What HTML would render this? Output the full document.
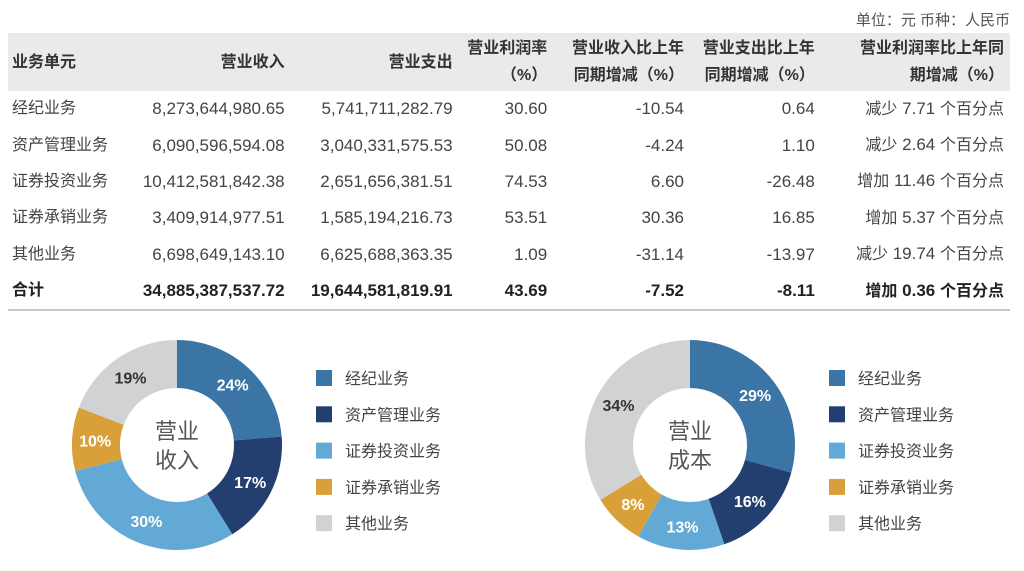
<!DOCTYPE html>
<html><head><meta charset="utf-8">
<style>
body{margin:0;width:1024px;height:571px;background:#fff;overflow:hidden;font-family:"Liberation Sans","Noto Sans CJK SC",sans-serif;color:#333;}
.unit{position:absolute;right:14px;top:9px;font-size:15px;color:#555;}
table{position:absolute;left:8px;top:33px;width:1002px;border-collapse:collapse;font-size:16px;}
th{background:#e9eaec;font-weight:bold;height:58px;line-height:27px;text-align:right;padding:0;color:#333;}
td{height:36.4px;line-height:20px;text-align:right;padding:0;color:#444;font-size:17px;vertical-align:middle;}
td span.c{font-size:16px;}
th.l,td.l{text-align:left;padding-left:4px;font-size:16px;}
tr.tot td{font-weight:bold;color:#222;}
tbody tr:last-child td{border-bottom:2px solid #c8c9cb;}
svg{position:absolute;left:0;top:0;}
</style></head><body>
<div class="unit">单位：元 币种：人民币</div>
<table>
<colgroup><col style="width:122px"><col style="width:153px"><col style="width:167px"><col style="width:94px"><col style="width:136px"><col style="width:130px"><col style="width:194px"></colgroup>
<thead><tr>
<th class="l">业务单元</th><th>营业收入</th><th>营业支出</th><th>营业利润率<br>（%）</th><th>营业收入比上年<br>同期增减（%）</th><th>营业支出比上年<br>同期增减（%）</th><th style="padding-right:6px">营业利润率比上年同<br>期增减（%）</th></tr></thead>
<tbody>
<tr><td class="l">经纪业务</td><td>8,273,644,980.65</td><td>5,741,711,282.79</td><td>30.60</td><td>-10.54</td><td>0.64</td><td style="padding-right:6px"><span class="c">减少</span> 7.71 <span class="c">个百分点</span></td></tr>
<tr><td class="l">资产管理业务</td><td>6,090,596,594.08</td><td>3,040,331,575.53</td><td>50.08</td><td>-4.24</td><td>1.10</td><td style="padding-right:6px"><span class="c">减少</span> 2.64 <span class="c">个百分点</span></td></tr>
<tr><td class="l">证券投资业务</td><td>10,412,581,842.38</td><td>2,651,656,381.51</td><td>74.53</td><td>6.60</td><td>-26.48</td><td style="padding-right:6px"><span class="c">增加</span> 11.46 <span class="c">个百分点</span></td></tr>
<tr><td class="l">证券承销业务</td><td>3,409,914,977.51</td><td>1,585,194,216.73</td><td>53.51</td><td>30.36</td><td>16.85</td><td style="padding-right:6px"><span class="c">增加</span> 5.37 <span class="c">个百分点</span></td></tr>
<tr><td class="l">其他业务</td><td>6,698,649,143.10</td><td>6,625,688,363.35</td><td>1.09</td><td>-31.14</td><td>-13.97</td><td style="padding-right:6px"><span class="c">减少</span> 19.74 <span class="c">个百分点</span></td></tr>
<tr class="tot"><td class="l">合计</td><td>34,885,387,537.72</td><td>19,644,581,819.91</td><td>43.69</td><td>-7.52</td><td>-8.11</td><td style="padding-right:6px"><span class="c">增加</span> 0.36 <span class="c">个百分点</span></td></tr>
</tbody></table>
<svg id="chart" width="1024" height="571"></svg>
<script>
const categories=["经纪业务","资产管理业务","证券投资业务","证券承销业务","其他业务"];
const revenueValues=[8273644980.65,6090596594.08,10412581842.38,3409914977.51,6698649143.10];
const costValues=[5741711282.79,3040331575.53,2651656381.51,1585194216.73,6625688363.35];
const revenueLabels=["24%","17%","30%","10%","19%"];
const costLabels=["29%","16%","13%","8%","34%"];
const colors=["#3b75a6","#233f6f","#63a9d5","#d9a03a","#d1d2d4"];
const labelColors=["#fff","#fff","#fff","#fff","#333"];
const NS="http://www.w3.org/2000/svg";
const svg=document.getElementById('chart');
function mk(t,a){const e=document.createElementNS(NS,t);for(const k in a)e.setAttribute(k,a[k]);return e;}
function donut(cx,cy,values,labels,title,legX,key){
  const R=105,r=57,tot=values.reduce((a,b)=>a+b,0);
  let a0=0;
  values.forEach((v,i)=>{
    const a1=a0+v/tot*2*Math.PI;
    const p=(a,rad)=>[cx+rad*Math.sin(a),cy-rad*Math.cos(a)];
    const [x1,y1]=p(a0,R),[x2,y2]=p(a1,R),[x3,y3]=p(a1,r),[x4,y4]=p(a0,r);
    const lg=(a1-a0)>Math.PI?1:0;
    const path=mk('path',{d:`M${x1},${y1}A${R},${R} 0 ${lg} 1 ${x2},${y2}L${x3},${y3}A${r},${r} 0 ${lg} 0 ${x4},${y4}Z`,fill:colors[i]});
    
    
    svg.appendChild(path);
    const am=(a0+a1)/2,[lx,ly]=p(am,82);
    const t=mk('text',{x:lx,y:ly+6,'text-anchor':'middle','font-size':'16','font-weight':'bold',fill:labelColors[i],'font-family':'Liberation Sans,sans-serif'});
    t.textContent=labels[i];
    
    
    svg.appendChild(t);
    a0=a1;
  });
  title.forEach((s,j)=>{
    const t=mk('text',{x:cx,y:cy-6+j*29,'text-anchor':'middle','font-size':'22',fill:'#555'});
    t.textContent=s;
    
    
    svg.appendChild(t);
  });
  categories.forEach((c,i)=>{
    const y=378+i*36.3;
    const rc=mk('rect',{x:legX,y:y-8,width:16,height:16,fill:colors[i]});
    
    
    svg.appendChild(rc);
    const t=mk('text',{x:legX+29,y:y+6,'font-size':'16',fill:'#444'});
    t.textContent=c;
    
    
    svg.appendChild(t);
  });
}
donut(177,445,revenueValues,revenueLabels,["营业","收入"],316,'revenue');
donut(690,445,costValues,costLabels,["营业","成本"],829,'cost');
</script>
</body></html>
